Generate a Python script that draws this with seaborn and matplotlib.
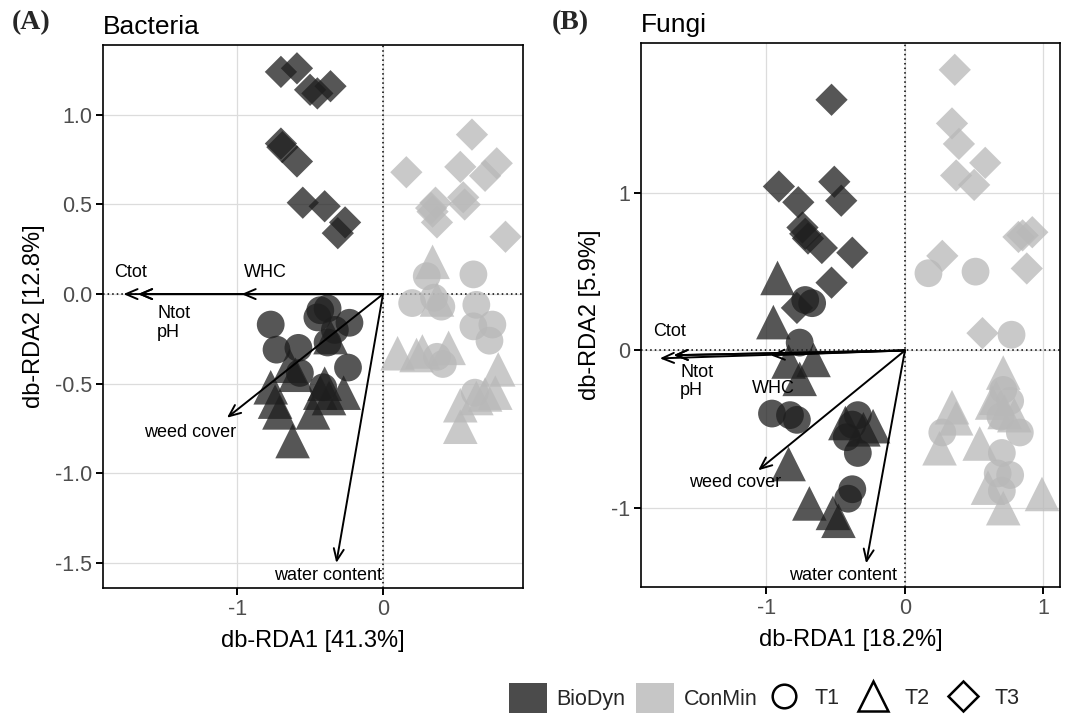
import matplotlib
matplotlib.use('Agg')
import matplotlib.pyplot as plt
from matplotlib.patches import Patch
from matplotlib.lines import Line2D
import seaborn as sns
import pandas as pd
import numpy as np

sns.set_theme(style='whitegrid')
plt.rcParams['font.family'] = ['Liberation Sans', 'DejaVu Sans']

# ---- Bacteria (panel A) site scores ----
bac_bio_t1_x = [-0.77, -0.43, -0.38, -0.23, -0.73, -0.58, -0.57, -0.38, -0.24, -0.33, -0.41, -0.45]
bac_bio_t1_y = [-0.17, -0.09, -0.08, -0.16, -0.31, -0.30, -0.44, -0.27, -0.41, -0.20, -0.52, -0.13]
bac_bio_t2_x = [-0.36, -0.64, -0.77, -0.74, -0.71, -0.62, -0.43, -0.48, -0.27, -0.40, -0.37, -0.60]
bac_bio_t2_y = [-0.24, -0.40, -0.52, -0.60, -0.66, -0.82, -0.55, -0.66, -0.55, -0.50, -0.58, -0.45]
bac_bio_t3_x = [-0.70, -0.59, -0.50, -0.45, -0.36, -0.70, -0.69, -0.59, -0.55, -0.40, -0.26, -0.31]
bac_bio_t3_y = [1.24, 1.26, 1.14, 1.12, 1.16, 0.84, 0.82, 0.74, 0.51, 0.49, 0.40, 0.34]
bac_con_t1_x = [0.62, 0.30, 0.20, 0.40, 0.64, 0.62, 0.75, 0.73, 0.37, 0.41, 0.63, 0.35]
bac_con_t1_y = [0.11, 0.10, -0.05, -0.07, -0.06, -0.18, -0.17, -0.26, -0.35, -0.39, -0.55, -0.02]
bac_con_t2_x = [0.34, 0.37, 0.27, 0.23, 0.45, 0.79, 0.77, 0.70, 0.64, 0.53, 0.53, 0.10]
bac_con_t2_y = [0.18, -0.03, -0.32, -0.34, -0.30, -0.42, -0.55, -0.56, -0.58, -0.62, -0.74, -0.33]
bac_con_t3_x = [0.61, 0.16, 0.53, 0.78, 0.70, 0.36, 0.55, 0.56, 0.34, 0.37, 0.84, 0.33]
bac_con_t3_y = [0.89, 0.68, 0.71, 0.73, 0.66, 0.51, 0.54, 0.50, 0.46, 0.40, 0.32, 0.48]

# ---- Fungi (panel B) site scores ----
fun_bio_t1_x = [-0.67, -0.76, -0.96, -0.83, -0.78, -0.34, -0.42, -0.34, -0.38, -0.41, -0.72, -0.38]
fun_bio_t1_y = [0.30, 0.05, -0.40, -0.41, -0.44, -0.41, -0.55, -0.65, -0.88, -0.94, 0.32, -0.47]
fun_bio_t2_x = [-0.92, -0.95, -0.66, -0.84, -0.76, -0.43, -0.23, -0.30, -0.84, -0.69, -0.52, -0.48]
fun_bio_t2_y = [0.46, 0.18, -0.06, -0.07, -0.18, -0.46, -0.48, -0.50, -0.72, -0.97, -1.03, -1.08]
fun_bio_t3_x = [-0.53, -0.91, -0.51, -0.46, -0.77, -0.74, -0.70, -0.60, -0.38, -0.53, -0.78, -0.72]
fun_bio_t3_y = [1.59, 1.04, 1.07, 0.95, 0.94, 0.78, 0.71, 0.65, 0.62, 0.43, 0.27, 0.74]
fun_con_t1_x = [0.17, 0.51, 0.77, 0.71, 0.76, 0.69, 0.27, 0.83, 0.70, 0.67, 0.76, 0.70]
fun_con_t1_y = [0.49, 0.50, 0.10, -0.25, -0.32, -0.42, -0.52, -0.52, -0.65, -0.78, -0.79, -0.89]
fun_con_t2_x = [0.71, 0.34, 0.63, 0.72, 0.37, 0.25, 0.54, 0.60, 0.71, 0.99, 0.79, 0.66]
fun_con_t2_y = [-0.14, -0.36, -0.33, -0.39, -0.43, -0.62, -0.59, -0.87, -1.00, -0.91, -0.41, -0.30]
fun_con_t3_x = [0.36, 0.34, 0.39, 0.58, 0.37, 0.50, 0.82, 0.92, 0.85, 0.88, 0.27, 0.56]
fun_con_t3_y = [1.78, 1.44, 1.31, 1.19, 1.11, 1.05, 0.72, 0.75, 0.73, 0.52, 0.60, 0.11]

# ---- environmental fit arrows ----
env_vars = ['Ctot', 'Ntot', 'pH', 'WHC', 'weed cover', 'water content']
bac_arrow_x = [-1.78, -1.68, -1.68, -0.97, -1.07, -0.32]
bac_arrow_y = [0.0, 0.0, 0.0, 0.0, -0.69, -1.50]
bac_label_x = [-1.73, -1.43, -1.47, -0.81, -1.32, -0.38]
bac_label_y = [0.12, -0.11, -0.215, 0.12, -0.77, -1.57]
fun_arrow_x = [-1.77, -1.67, -1.67, -0.97, -1.06, -0.28]
fun_arrow_y = [-0.05, -0.03, -0.03, -0.03, -0.76, -1.35]
fun_label_x = [-1.70, -1.50, -1.54, -0.95, -1.23, -0.45]
fun_label_y = [0.12, -0.14, -0.255, -0.24, -0.84, -1.43]

systems = ['BioDyn', 'ConMin']
times = ['T1', 'T2', 'T3']
sys_colors = {'BioDyn': '#1e1e1e', 'ConMin': '#b8b8b8'}
markers = {'T1': 'o', 'T2': '^', 'T3': 'D'}
sizes = {'T1': 400, 'T2': 620, 'T3': 270}


def make_df(groups):
    rows = []
    for (s, t), (xs, ys) in groups.items():
        for x, y in zip(xs, ys):
            rows.append({'system': s, 'time': t, 'x': x, 'y': y})
    return pd.DataFrame(rows)


bac_df = make_df({
    ('BioDyn', 'T1'): (bac_bio_t1_x, bac_bio_t1_y),
    ('BioDyn', 'T2'): (bac_bio_t2_x, bac_bio_t2_y),
    ('BioDyn', 'T3'): (bac_bio_t3_x, bac_bio_t3_y),
    ('ConMin', 'T1'): (bac_con_t1_x, bac_con_t1_y),
    ('ConMin', 'T2'): (bac_con_t2_x, bac_con_t2_y),
    ('ConMin', 'T3'): (bac_con_t3_x, bac_con_t3_y),
})
fun_df = make_df({
    ('BioDyn', 'T1'): (fun_bio_t1_x, fun_bio_t1_y),
    ('BioDyn', 'T2'): (fun_bio_t2_x, fun_bio_t2_y),
    ('BioDyn', 'T3'): (fun_bio_t3_x, fun_bio_t3_y),
    ('ConMin', 'T1'): (fun_con_t1_x, fun_con_t1_y),
    ('ConMin', 'T2'): (fun_con_t2_x, fun_con_t2_y),
    ('ConMin', 'T3'): (fun_con_t3_x, fun_con_t3_y),
})


def panel(ax, df, ax_x, ax_y, lab_x, lab_y, xlim, ylim, xticks, yticks, yfmt,
          xlabel, ylabel, title):
    sns.scatterplot(data=df, x='x', y='y', hue='system', style='time', size='time',
                    hue_order=systems, style_order=times, size_order=times,
                    palette=sys_colors, markers=markers, sizes=sizes,
                    alpha=0.75, linewidth=0, legend=False, ax=ax, zorder=3)
    ax.axhline(0, color='black', ls=(0, (1, 2)), lw=1.1, zorder=2)
    ax.axvline(0, color='black', ls=(0, (1, 2)), lw=1.1, zorder=2)
    for xe, ye in zip(ax_x, ax_y):
        ax.annotate('', xy=(xe, ye), xytext=(0, 0),
                    arrowprops=dict(arrowstyle='->,head_length=0.7,head_width=0.3',
                                    color='black', lw=1.4, shrinkA=0, shrinkB=0),
                    zorder=4)
    for name, lx, ly in zip(env_vars, lab_x, lab_y):
        ax.text(lx, ly, name, ha='center', va='center', fontsize=13, color='black', zorder=5)
    ax.set_xlim(*xlim)
    ax.set_ylim(*ylim)
    ax.set_xticks(xticks)
    ax.set_yticks(yticks)
    ax.set_xticklabels([str(v) for v in xticks])
    ax.set_yticklabels([yfmt.format(v) for v in yticks])
    ax.grid(True, color='#dcdcdc', lw=0.9)
    for sp in ax.spines.values():
        sp.set_color('black')
        sp.set_linewidth(1.2)
    ax.tick_params(axis='both', which='major', direction='out', length=5, width=1.4,
                   color='black', labelsize=15.5, labelcolor='#4d4d4d', pad=3,
                   bottom=True, left=True)
    ax.set_xlabel(xlabel, fontsize=17, color='black', labelpad=7)
    ax.set_ylabel(ylabel, fontsize=17, color='black', labelpad=7)
    ax.set_title(title, loc='left', fontsize=19, pad=8, color='black')


fig = plt.figure(figsize=(10.67, 7.17), dpi=100)
ax1 = fig.add_axes([103 / 1067, 1 - 588 / 717, 420 / 1067, 543 / 717])
ax2 = fig.add_axes([641 / 1067, 1 - 587 / 717, 419 / 1067, 544 / 717])

panel(ax1, bac_df, bac_arrow_x, bac_arrow_y, bac_label_x, bac_label_y,
      (-1.92, 0.96), (-1.64, 1.39), [-1, 0], [-1.5, -1.0, -0.5, 0.0, 0.5, 1.0], '{:.1f}',
      'db-RDA1 [41.3%]', 'db-RDA2 [12.8%]', 'Bacteria')
panel(ax2, fun_df, fun_arrow_x, fun_arrow_y, fun_label_x, fun_label_y,
      (-1.906, 1.12), (-1.50, 1.95), [-1, 0, 1], [-1, 0, 1], '{:d}',
      'db-RDA1 [18.2%]', 'db-RDA2 [5.9%]', 'Fungi')

fig.text(12 / 1067, 1 - 23 / 717, '(A)', fontsize=20, fontweight='bold',
         family='Liberation Serif', va='center', ha='left')
fig.text(552 / 1067, 1 - 23 / 717, '(B)', fontsize=20, fontweight='bold',
         family='Liberation Serif', va='center', ha='left')

# legends at the bottom
color_handles = [Patch(facecolor=sys_colors[s], alpha=0.8, edgecolor='none') for s in systems]
leg1 = fig.legend(color_handles, systems, loc='center right', bbox_to_anchor=(768 / 1067, 0.026),
                  ncol=2, frameon=False, fontsize=15.5, handlelength=1.75, handleheight=1.75,
                  handletextpad=0.45, columnspacing=0.5, borderpad=0)
shape_handles = [Line2D([], [], marker=markers[t], ls='', markerfacecolor='none',
                        markeredgecolor='black', markeredgewidth=1.8,
                        markersize={'T1': 17, 'T2': 22, 'T3': 15}[t]) for t in times]
leg2 = fig.legend(shape_handles, times, loc='center right', bbox_to_anchor=(1030 / 1067, 0.026),
                  ncol=3, frameon=False, fontsize=15.5, handlelength=1.8,
                  handletextpad=0.55, columnspacing=0.65, borderpad=0)

fig.savefig('out.png', dpi=100)
